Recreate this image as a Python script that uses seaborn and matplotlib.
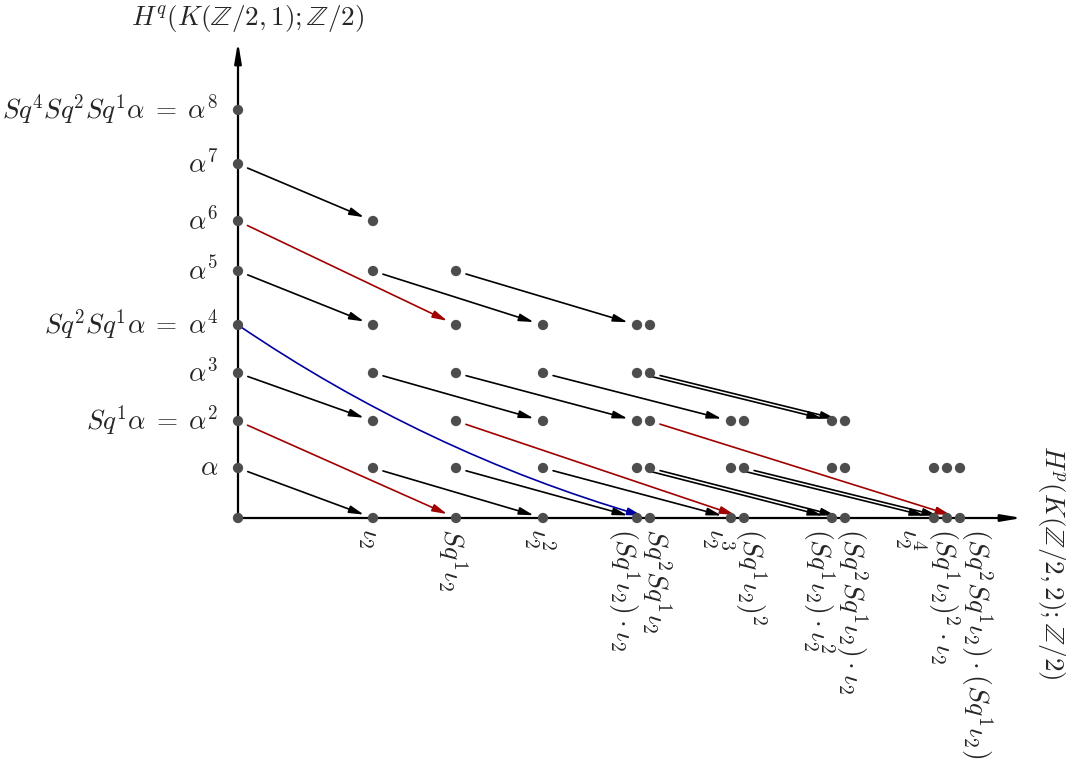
import numpy as np
import pandas as pd
import matplotlib
matplotlib.use('Agg')
import matplotlib.pyplot as plt
from matplotlib.patches import FancyArrowPatch
import seaborn as sns

# E2 page of the Serre spectral sequence: columns p (p=1 is empty), rows q = 0..8
cols = [0, 2, 3, 4, 5, 6, 7, 8]
counts = [
    [1, 1, 1, 1, 2, 2, 2, 3],  # q=0
    [1, 1, 1, 1, 2, 2, 2, 3],  # q=1
    [1, 1, 1, 1, 2, 2, 2, 0],  # q=2
    [1, 1, 1, 1, 2, 0, 0, 0],  # q=3
    [1, 1, 1, 1, 2, 0, 0, 0],  # q=4
    [1, 1, 1, 0, 0, 0, 0, 0],  # q=5
    [1, 1, 0, 0, 0, 0, 0, 0],  # q=6
    [1, 0, 0, 0, 0, 0, 0, 0],  # q=7
    [1, 0, 0, 0, 0, 0, 0, 0],  # q=8
]

row_labels = ['', r'$\alpha$', r'$Sq^1\alpha\;=\;\alpha^2$', r'$\alpha^3$',
              r'$Sq^2Sq^1\alpha\;=\;\alpha^4$', r'$\alpha^5$', r'$\alpha^6$',
              r'$\alpha^7$', r'$Sq^4Sq^2Sq^1\alpha\;=\;\alpha^8$']

col_labels = {
    2: [r'$\iota_2$'],
    3: [r'$Sq^1\iota_2$'],
    4: [r'$\iota_2^2$'],
    5: [r'$(Sq^1\iota_2)\cdot\iota_2$', r'$Sq^2Sq^1\iota_2$'],
    6: [r'$\iota_2^3$', r'$(Sq^1\iota_2)^2$'],
    7: [r'$(Sq^1\iota_2)\cdot\iota_2^2$', r'$(Sq^2Sq^1\iota_2)\cdot\iota_2$'],
    8: [r'$\iota_2^4$', r'$(Sq^1\iota_2)^2\cdot\iota_2$',
        r'$(Sq^2Sq^1\iota_2)\cdot(Sq^1\iota_2)$'],
}

# differentials: (p, q, index) -> (p, q, index)
d2 = [
    ((0, 1, 0), (2, 0, 0)), ((0, 3, 0), (2, 2, 0)), ((0, 5, 0), (2, 4, 0)),
    ((0, 7, 0), (2, 6, 0)), ((2, 1, 0), (4, 0, 0)), ((3, 1, 0), (5, 0, 0)),
    ((4, 1, 0), (6, 0, 0)), ((5, 1, 0), (7, 0, 0)), ((5, 1, 1), (7, 0, 1)),
    ((6, 1, 0), (8, 0, 0)), ((6, 1, 1), (8, 0, 1)), ((2, 3, 0), (4, 2, 0)),
    ((3, 3, 0), (5, 2, 0)), ((4, 3, 0), (6, 2, 0)), ((5, 3, 0), (7, 2, 0)),
    ((5, 3, 1), (7, 2, 1)), ((2, 5, 0), (4, 4, 0)), ((3, 5, 0), (5, 4, 0)),
]
d3 = [
    ((0, 2, 0), (3, 0, 0)), ((0, 6, 0), (3, 4, 0)),
    ((3, 2, 0), (6, 0, 1)), ((5, 2, 1), (8, 0, 2)),
]
d5 = [((0, 4, 0), (5, 0, 1))]

# layout (figure pixels)
col_x = {0: 238, 2: 373, 3: 456, 4: 543, 5: 637, 6: 731, 7: 832, 8: 934}
row_y = [518, 468, 421, 373, 325, 271, 221, 164, 110]
gap = 13


def pos(p, q, i):
    return col_x[p] + i * gap, row_y[q]


rows = []
for q, cnt in enumerate(counts):
    for p, n in zip(cols, cnt):
        for i in range(n):
            x, y = pos(p, q, i)
            rows.append({'x': x, 'y': y})
df = pd.DataFrame(rows)

sns.set_style('white')
plt.rcParams['mathtext.fontset'] = 'cm'

fig = plt.figure(figsize=(10.74, 7.67), dpi=100)
ax = fig.add_axes([0, 0, 1, 1])

# axes
axis_style = '-|>,head_length=1.0,head_width=0.17'
ax.annotate('', xy=(238, 42), xytext=(238, 518),
            arrowprops=dict(arrowstyle=axis_style, mutation_scale=12, lw=1.6,
                            color='black', shrinkA=0, shrinkB=0))
ax.annotate('', xy=(1022, 518), xytext=(238, 518),
            arrowprops=dict(arrowstyle=axis_style, mutation_scale=12, lw=1.6,
                            color='black', shrinkA=0, shrinkB=0))

style = '-|>,head_length=0.62,head_width=0.16'
for diffs, c in [(d2, 'black'), (d3, '#a00000')]:
    for a, b in diffs:
        ax.add_patch(FancyArrowPatch(pos(*a), pos(*b), arrowstyle=style, mutation_scale=14,
                                     lw=1.2, color=c, shrinkA=7.5, shrinkB=7))
for a, b in d5:
    ax.add_patch(FancyArrowPatch(pos(*a), pos(*b), arrowstyle=style, mutation_scale=14,
                                 lw=1.2, color='#0000a0', shrinkA=0.5, shrinkB=6,
                                 connectionstyle='arc3,rad=0.08'))

sns.scatterplot(data=df, x='x', y='y', color='#4d4d4d', s=55, edgecolor='none',
                ax=ax, zorder=5, legend=False)
ax.set_xlim(0, 1074)
ax.set_ylim(767, 0)
ax.axis('off')

fs = 19.5
for q, lab in enumerate(row_labels):
    if lab:
        ax.text(218, row_y[q], lab, ha='right', va='center', fontsize=fs)

for p, labs in col_labels.items():
    n = len(labs)
    center = col_x[p] + (counts[0][cols.index(p)] - 1) * gap / 2
    for i, lab in enumerate(labs):
        x = center + (i - (n - 1) / 2) * 33 - 3
        ax.text(x, 528, lab, ha='center', va='top', rotation=-90, fontsize=20)

ax.text(248, 18, r'$H^q(K(\mathbb{Z}/2,1);\mathbb{Z}/2)$', ha='center', va='center',
        fontsize=19.5)
ax.text(1052, 562, r'$H^p(K(\mathbb{Z}/2,2);\mathbb{Z}/2)$', ha='center', va='center',
        rotation=-90, fontsize=19.5)

fig.savefig('out.png', dpi=100)
